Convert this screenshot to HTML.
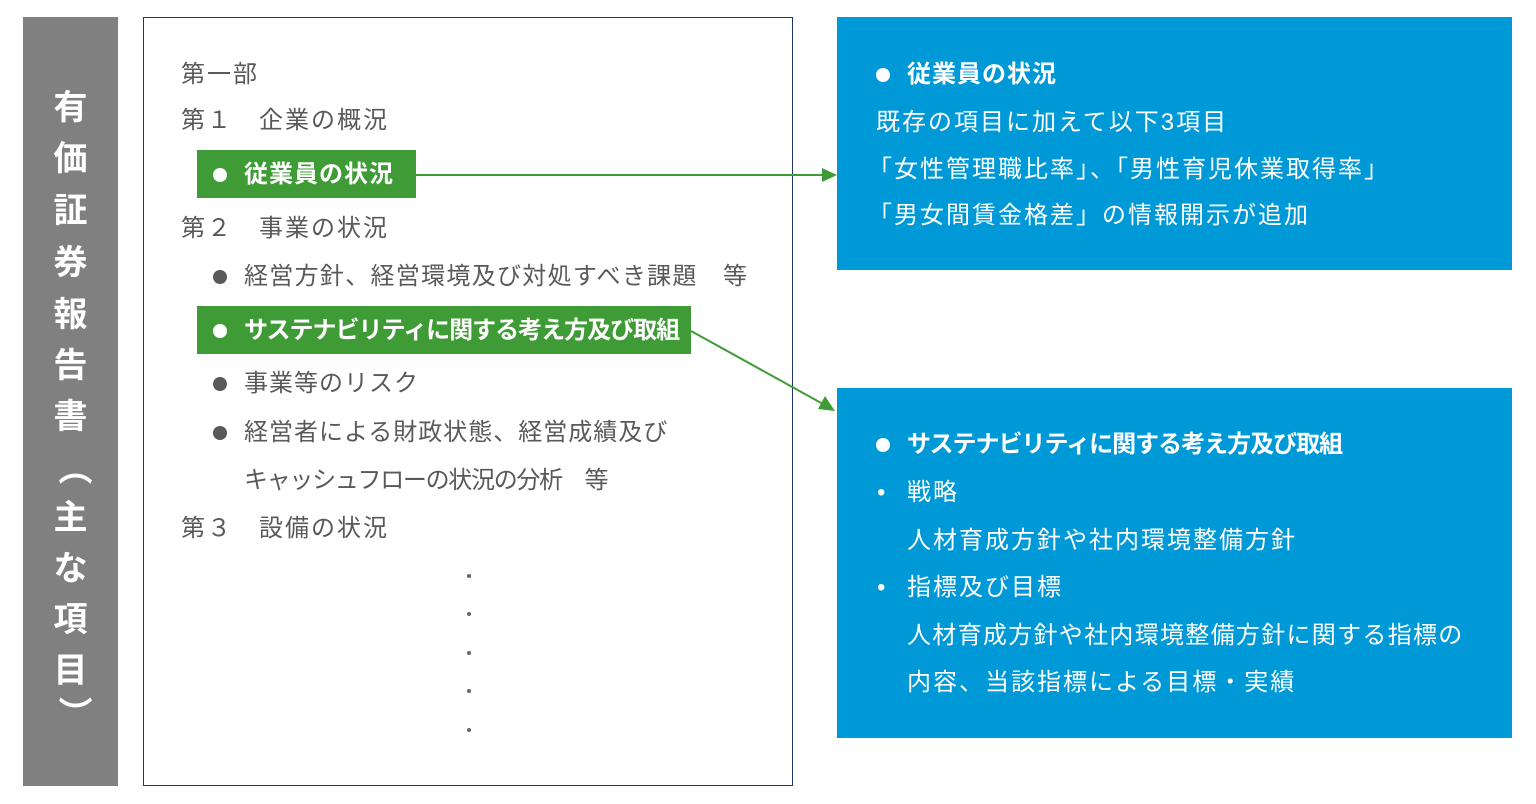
<!DOCTYPE html>
<html><head><meta charset="utf-8"><style>
body{margin:0;width:1536px;height:804px;background:#fff;position:relative;overflow:hidden;font-family:"Liberation Sans","Noto Sans CJK JP",sans-serif;}
.t{position:absolute;white-space:nowrap;font-size:24px;line-height:30px;letter-spacing:2px;color:#595959;}
.w{color:#fff}
.b{font-weight:bold}
.n{letter-spacing:-1px}
.bu{position:absolute;width:14px;height:14px;border-radius:50%;}
.g{position:absolute;background:#3f9b35;}
.bl{position:absolute;background:#0099d8;}
.dot{position:absolute;width:4px;height:4px;border-radius:50%;background:#666;left:467px;}
.vc{position:absolute;left:23px;width:95px;text-align:center;color:#fff;font-weight:bold;font-size:34px;line-height:40px;}
</style></head><body>
<div style="position:absolute;left:23px;top:17px;width:95px;height:769px;background:#808080"></div>
<div class="vc" style="top:88px">有</div>
<div class="vc" style="top:139px">価</div>
<div class="vc" style="top:191px">証</div>
<div class="vc" style="top:243px">券</div>
<div class="vc" style="top:295px">報</div>
<div class="vc" style="top:346px">告</div>
<div class="vc" style="top:397px">書</div>
<div class="vc" style="top:448px;writing-mode:vertical-rl;left:52px;width:40px;height:40px">（</div>
<div class="vc" style="top:498px">主</div>
<div class="vc" style="top:549px">な</div>
<div class="vc" style="top:600px">項</div>
<div class="vc" style="top:651px">目</div>
<div class="vc" style="top:693px;writing-mode:vertical-rl;left:52px;width:40px;height:40px">）</div>

<div style="position:absolute;left:143px;top:17px;width:648px;height:767px;border:1.5px solid #1f3864"></div>
<div class="g" style="left:197px;top:150px;width:219px;height:48px"></div>
<div class="g" style="left:197px;top:306px;width:494px;height:48px"></div>

<div class="t" style="left:181px;top:60px">第一部</div>
<div class="t" style="left:181px;top:106px">第１　企業の概況</div>
<div class="bu" style="left:213px;top:168px;background:#fff"></div>
<div class="t w b" style="left:244px;top:160px;letter-spacing:1px">従業員の状況</div>
<div class="t" style="left:181px;top:214px">第２　事業の状況</div>
<div class="bu" style="left:213px;top:270px;background:#595959"></div>
<div class="t" style="left:244px;top:262px;letter-spacing:1.3px">経営方針、経営環境及び対処すべき課題　等</div>
<div class="bu" style="left:213px;top:324px;background:#fff"></div>
<div class="t w b n" style="left:244px;top:316px">サステナビリティに関する考え方及び取組</div>
<div class="bu" style="left:213px;top:377px;background:#595959"></div>
<div class="t" style="left:244px;top:369px;letter-spacing:1px">事業等のリスク</div>
<div class="bu" style="left:213px;top:426px;background:#595959"></div>
<div class="t" style="left:244px;top:418px;letter-spacing:1px">経営者による財政状態、経営成績及び</div>
<div class="t" style="left:244px;top:466px;letter-spacing:-1.3px">キャッシュフローの状況の分析　等</div>
<div class="t" style="left:181px;top:514px">第３　設備の状況</div>
<div class="dot" style="top:574px"></div>
<div class="dot" style="top:612px"></div>
<div class="dot" style="top:651px"></div>
<div class="dot" style="top:689px"></div>
<div class="dot" style="top:728px"></div>

<div class="bl" style="left:837px;top:17px;width:675px;height:253px"></div>
<div class="bl" style="left:837px;top:388px;width:675px;height:350px"></div>
<div class="bu" style="left:876px;top:68px;background:#fff"></div>
<div class="t w b" style="left:907px;top:60px;letter-spacing:1px">従業員の状況</div>
<div class="t w" style="left:876px;top:108px">既存の項目に加えて以下3項目</div>
<div class="t w" style="left:868px;top:155px">「女性管理職比率」、「男性育児休業取得率」</div>
<div class="t w" style="left:868px;top:201px">「男女間賃金格差」の情報開示が追加</div>
<div class="bu" style="left:876px;top:438px;background:#fff"></div>
<div class="t w b n" style="left:907px;top:430px">サステナビリティに関する考え方及び取組</div>
<div class="t w" style="left:877px;top:478px">•</div>
<div class="t w" style="left:907px;top:478px">戦略</div>
<div class="t w" style="left:907px;top:526px">人材育成方針や社内環境整備方針</div>
<div class="t w" style="left:877px;top:573px">•</div>
<div class="t w" style="left:907px;top:573px">指標及び目標</div>
<div class="t w" style="left:907px;top:621px;letter-spacing:1.3px">人材育成方針や社内環境整備方針に関する指標の</div>
<div class="t w" style="left:907px;top:668px">内容、当該指標による目標・実績</div>

<svg style="position:absolute;left:0;top:0" width="1536" height="804">
<line x1="416" y1="175" x2="824" y2="175" stroke="#3f9b35" stroke-width="2"/>
<polygon points="837,175 822,168 822,182" fill="#3f9b35"/>
<line x1="691" y1="331" x2="823" y2="404" stroke="#3f9b35" stroke-width="2"/>
<polygon points="835,411 818,409 825,396" fill="#3f9b35"/>
</svg>
</body></html>
